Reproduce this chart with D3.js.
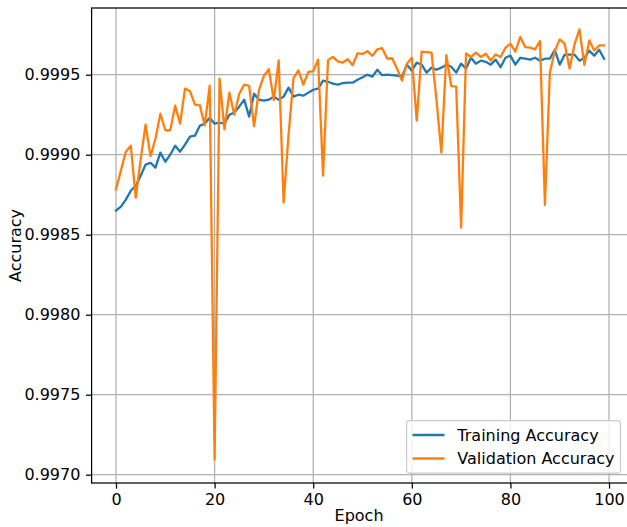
<!DOCTYPE html>
<html>
<head>
<meta charset="utf-8">
<script src="https://cdn.jsdelivr.net/npm/d3@7"></script>
<style>
  html, body { margin: 0; padding: 0; background: #ffffff; }
  svg { display: block; }
  text { font-family: "DejaVu Sans", sans-serif; }
</style>
</head>
<body>
<svg id="chart" width="627" height="527"></svg>
<script>
// ---- data ----
const epochs = d3.range(0, 100);
const trainingAccuracy = [
  0.998650, 0.998675, 0.998719, 0.998775, 0.998806, 0.998869, 0.998938, 0.998950, 0.998919, 0.999013,
  0.998956, 0.999000, 0.999056, 0.999019, 0.999063, 0.999113, 0.999119, 0.999181, 0.999194, 0.999231,
  0.999194, 0.999200, 0.999194, 0.999250, 0.999263, 0.999300, 0.999344, 0.999238, 0.999381, 0.999344,
  0.999338, 0.999344, 0.999363, 0.999344, 0.999363, 0.999419, 0.999363, 0.999375, 0.999369, 0.999388,
  0.999406, 0.999413, 0.999463, 0.999456, 0.999444, 0.999438, 0.999447, 0.999450, 0.999450, 0.999469,
  0.999484, 0.999500, 0.999488, 0.999531, 0.999497, 0.999500, 0.999497, 0.999494, 0.999488, 0.999563,
  0.999525, 0.999575, 0.999563, 0.999513, 0.999544, 0.999531, 0.999544, 0.999563, 0.999550, 0.999513,
  0.999569, 0.999538, 0.999606, 0.999569, 0.999588, 0.999581, 0.999563, 0.999594, 0.999547, 0.999606,
  0.999619, 0.999563, 0.999606, 0.999600, 0.999594, 0.999606, 0.999588, 0.999600, 0.999600, 0.999656,
  0.999563, 0.999625, 0.999625, 0.999625, 0.999588, 0.999606, 0.999650, 0.999619, 0.999656, 0.999600
];
const validationAccuracy = [
  0.998784, 0.998903, 0.999019, 0.999056, 0.998731, 0.998969, 0.999188, 0.998991, 0.999100, 0.999256,
  0.999153, 0.999153, 0.999306, 0.999194, 0.999413, 0.999397, 0.999313, 0.999309, 0.999184, 0.999431,
  0.997094, 0.999475, 0.999159, 0.999388, 0.999250, 0.999381, 0.999438, 0.999431, 0.999178, 0.999403,
  0.999494, 0.999534, 0.999341, 0.999589, 0.998700, 0.999125, 0.999479, 0.999527, 0.999438, 0.999517,
  0.999522, 0.999594, 0.998869, 0.999591, 0.999611, 0.999583, 0.999576, 0.999597, 0.999559, 0.999634,
  0.999630, 0.999647, 0.999618, 0.999659, 0.999666, 0.999601, 0.999603, 0.999538, 0.999463, 0.999569,
  0.999606, 0.999213, 0.999644, 0.999641, 0.999638, 0.999344, 0.999013, 0.999623, 0.999429, 0.999425,
  0.998544, 0.999633, 0.999611, 0.999638, 0.999611, 0.999631, 0.999589, 0.999627, 0.999611, 0.999669,
  0.999694, 0.999644, 0.999736, 0.999673, 0.999669, 0.999658, 0.999711, 0.998686, 0.999513, 0.999648,
  0.999721, 0.999694, 0.999539, 0.999689, 0.999783, 0.999561, 0.999714, 0.999652, 0.999683, 0.999683
];
const xTicks = [0, 20, 40, 60, 80, 100];
const yTicks = [0.9970, 0.9975, 0.9980, 0.9985, 0.9990, 0.9995];
const seriesNames = ["Training Accuracy", "Validation Accuracy"];
const xAxisLabel = "Epoch";
const yAxisLabel = "Accuracy";

// ---- layout ----
const W = 627, H = 527;
const plotL = 91.6, plotR = 628.5, plotT = 8, plotB = 483;
const fs = 16;
const colors = ["#1f77b4", "#ff7f0e"];

const svg = d3.select("#chart");
svg.append("rect").attr("width", W).attr("height", H).attr("fill", "#ffffff");

const x = d3.scaleLinear().domain([-4.95, 103.95]).range([plotL, plotR]);
const y = d3.scaleLinear().domain([0.996948, 0.999917]).range([plotB, plotT]);

svg.append("defs").append("clipPath").attr("id", "clip")
  .append("rect").attr("x", plotL).attr("y", plotT)
  .attr("width", plotR - plotL).attr("height", plotB - plotT);

// grid
const grid = svg.append("g");
grid.selectAll("line.gx").data(xTicks).enter().append("line")
  .attr("x1", d => x(d)).attr("x2", d => x(d))
  .attr("y1", plotT).attr("y2", plotB)
  .attr("stroke", "#b0b0b0").attr("stroke-width", 1.25);
grid.selectAll("line.gy").data(yTicks).enter().append("line")
  .attr("x1", plotL).attr("x2", plotR)
  .attr("y1", d => y(d)).attr("y2", d => y(d))
  .attr("stroke", "#b0b0b0").attr("stroke-width", 1.25);

// lines
const line = d3.line().x((d, i) => x(epochs[i])).y(d => y(d));
const lines = svg.append("g").attr("clip-path", "url(#clip)");
[trainingAccuracy, validationAccuracy].forEach((s, k) => {
  lines.append("path").datum(s)
    .attr("d", line)
    .attr("fill", "none")
    .attr("stroke", colors[k])
    .attr("stroke-width", 2.3)
    .attr("stroke-linejoin", "round")
    .attr("stroke-linecap", "square");
});

// axes
const tickLen = 5.6;
const xAxis = d3.axisBottom(x).tickValues(xTicks).tickSize(tickLen).tickPadding(5.6)
  .tickFormat(d3.format("d"));
const yAxis = d3.axisLeft(y).tickValues(yTicks).tickSize(tickLen).tickPadding(5.6)
  .tickFormat(d3.format(".4f"));

const gx = svg.append("g").attr("transform", `translate(0,${plotB})`).call(xAxis);
const gy = svg.append("g").attr("transform", `translate(${plotL},0)`).call(yAxis);
[gx, gy].forEach(g => {
  g.select(".domain").remove();
  g.attr("font-family", "DejaVu Sans").attr("font-size", fs);
  g.selectAll(".tick line").attr("stroke", "#000").attr("stroke-width", 1.25);
  g.selectAll(".tick text").attr("fill", "#000");
});
gx.selectAll(".tick text").attr("dy", "0.68em");

// spines
svg.append("rect")
  .attr("x", plotL).attr("y", plotT)
  .attr("width", plotR - plotL).attr("height", plotB - plotT)
  .attr("fill", "none").attr("stroke", "#000").attr("stroke-width", 1.25);

// axis labels
svg.append("text")
  .attr("x", (plotL + plotR) / 2 - 1).attr("y", 521)
  .attr("text-anchor", "middle").attr("font-size", fs).attr("fill", "#000")
  .text(xAxisLabel);
svg.append("text")
  .attr("transform", `translate(20.5,${(plotT + plotB) / 2}) rotate(-90)`)
  .attr("text-anchor", "middle").attr("font-size", fs).attr("fill", "#000")
  .text(yAxisLabel);

// legend
const legend = svg.append("g");
const box = legend.append("rect");
const items = legend.selectAll("g.item").data(seriesNames).enter().append("g");
const rowH = 17, pad = 6, gap = 6.5, handleLen = 32, handlePad = 12.8;
const texts = items.append("text")
  .attr("font-size", fs).attr("fill", "#000")
  .attr("dy", "0.36em")
  .text(d => d);
let maxW = 0;
texts.each(function() { maxW = Math.max(maxW, this.getComputedTextLength()); });
const legW = pad + handleLen + handlePad + maxW + pad;
const legH = pad * 2 + rowH * 2 + gap;
const legR = plotR - 8, legB = plotB - 10;
const legL = legR - legW, legT = legB - legH;
box.attr("x", legL).attr("y", legT).attr("width", legW).attr("height", legH)
  .attr("rx", 3.2).attr("ry", 3.2)
  .attr("fill", "#ffffff").attr("fill-opacity", 0.8)
  .attr("stroke", "#cccccc").attr("stroke-width", 1.25);
items.each(function(d, i) {
  const cy = legT + pad + rowH / 2 + i * (rowH + gap);
  const g = d3.select(this);
  g.append("line")
    .attr("x1", legL + pad).attr("x2", legL + pad + handleLen)
    .attr("y1", cy).attr("y2", cy)
    .attr("stroke", colors[i]).attr("stroke-width", 2.3);
  g.select("text").attr("x", legL + pad + handleLen + handlePad).attr("y", cy);
});
</script>
</body>
</html>
